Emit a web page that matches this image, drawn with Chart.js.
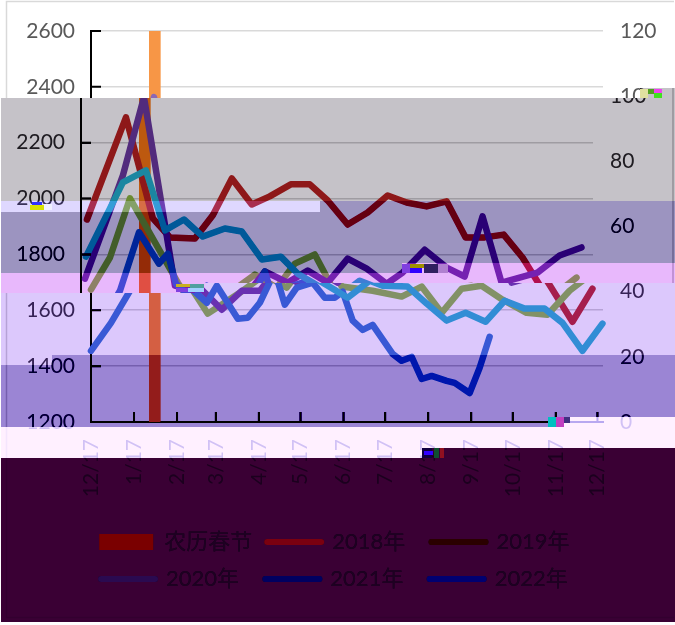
<!DOCTYPE html>
<html><head><meta charset="utf-8">
<script src="https://cdn.jsdelivr.net/npm/chart.js@4"></script>
<style>html,body{margin:0;padding:0;background:#fff}canvas{display:block}</style>
</head><body><canvas id="c" width="675" height="625"></canvas>
<script>
const monthDays=[0,31,62,90,121,151,182,212,243,274,304,335,365];
const monthLabels=['12/17','1/17','2/17','3/17','4/17','5/17','6/17','7/17','8/17','9/17','10/17','11/17','12/17'];
const festivalDay=[46];
const festivalValue=[120];
const days2018=[4.3,32.4,51.8,64.1,82.1,95,108.7,123.1,136,151.2,164.9,177.8,192.2,206.6,221,234.7,249.1,263.5,277.2,290.9,304.6,318.2,347,361.4];
const vals2018=[1925,2291,1929,1861,1857,1940,2072,1979,2008,2051,2051,1993,1907,1950,2011,1986,1972,1990,1861,1861,1871,1789,1559,1677];
const days2019=[7.2,20.9,35.3,69.8,84.2,109.4,125.3,141.1,154.1,168.5,177.8,180.7,203,223.9,238.3,252.7,267.1,281.5,296.6,313.9,329,344.9,357.1];
const vals2019=[1674,1789,2001,1699,1588,1670,1728,1681,1767,1800,1713,1685,1670,1649,1685,1591,1677,1688,1638,1591,1584,1670,1717];
const days2020=[2.9,30.2,45.4,67.7,80.6,94.3,108.7,121.7,132.5,149,163.4,177.8,192.2,205.9,220.3,231.8,247.7,263.5,276.5,289.4,303.1,329,344.9,360.7];
const vals2020=[1713,2083,2363,1688,1670,1602,1670,1670,1739,1699,1742,1699,1785,1749,1695,1735,1817,1753,1721,1936,1699,1735,1796,1825];
const days2021=[0,14.4,28.1,41.8,56.2,62.6,68.4,83.5,90.7,105.8,113,121.7,132.5,139.7,148.3,159.8,168.5,175.7,181.4,188.6,195.8,203,217.4,223.9,231.1,238.3,245.5,256.3,262.1,272.9,280.1,287.3];
const vals2021=[1455,1555,1670,1879,1767,1803,1695,1627,1688,1570,1573,1627,1739,1620,1681,1699,1645,1645,1667,1563,1530,1548,1444,1419,1433,1354,1365,1347,1340,1304,1394,1505];
const days2022=[3.6,30.2,46.8,60.5,74.2,87.8,103.7,115.9,130.3,144,156.2,167,185,200.9,210.2,228.2,241.9,256.3,270,284.4,298.1,312.5,326.9,339.8,354.2,368.6];
const vals2022=[1792,2058,2101,1886,1925,1864,1893,1882,1782,1792,1731,1699,1645,1706,1688,1685,1624,1563,1591,1559,1634,1606,1606,1555,1455,1552];
const seriesNames=['2018年','2019年','2020年','2021年','2022年'];
const festivalName='农历春节';

const FONT='Lato, "Noto Sans CJK SC", sans-serif';
const LEGEND_TEXT='#1e0022';
const lineColors=['#C85550','#A5C869','#8C68B4','#5C90D8','#55C4D8'];
const legendColors=['#7a0000','#7a0010','#2a0000','#2a0a50','#000060','#000070'];
const bands=[
 {r:[[1,98,675,201],[640,88,675,98]],hi:[197,194,200],lo:[-58,-61,-55]},
 {r:[[1,201,320,212]],hi:[223,216,255],lo:[-32,-39,0]},
 {r:[[1,212,320,273],[320,201,402,273],[402,201,675,263]],hi:[156,148,192],lo:[-99,-107,-63]},
 {r:[[1,273,675,283],[402,263,675,273],[1,283,205,293]],hi:[232,184,252],lo:[-23,-71,-3]},
 {r:[[205,283,675,355],[1,293,205,355],[1,355,52,365]],hi:[220,200,252],lo:[-35,-55,-3]},
 {r:[[52,355,548,427],[548,355,675,417],[1,365,52,427]],hi:[155,133,212],lo:[-100,-122,-43]},
 {r:[[1,427,422,458],[422,427,675,448],[548,417,675,427]],hi:[255,240,255],lo:[184,168,240]},
 {r:[[1,458,675,622],[422,448,675,458]],hi:[58,0,52],lo:[10,0,18]}
];
const glitches=[
 [30,205,14,5,'#d8e000'],[32,202,10,3,'#3030ff'],[44,204,8,6,'#f0f0ff'],
 [176,284,14,3,'#c8b020'],[190,284,14,4,'#50a0a0'],[176,288,12,4,'#8040e0'],[188,288,16,4,'#a0d0ff'],
 [402,264,10,9,'#8040e0'],[410,264,14,4,'#a09000'],[410,268,12,5,'#3000ff'],[424,264,14,9,'#302060'],[438,264,10,9,'#b080d0'],
 [640,89,8,9,'#e0e0a0'],[648,89,6,5,'#50a020'],[654,89,8,4,'#f040f0'],[654,93,8,5,'#40e020'],
 [548,417,8,10,'#00c0c0'],[556,417,8,10,'#c040c0'],[564,417,6,6,'#403080'],
 [422,448,10,10,'#100040'],[424,451,9,4,'#3000ff'],[434,448,5,10,'#105030'],[440,448,4,10,'#901020']
];
const toPts=(d,v)=>d.map((x,i)=>({x,y:v[i]}));
const lineSets=[[days2018,vals2018],[days2019,vals2019],[days2020,vals2020],[days2021,vals2021],[days2022,vals2022]];

const fx={
 id:'fx',
 beforeDraw(ch){
  const c=ch.ctx;c.save();c.fillStyle='#fff';c.fillRect(0,0,675,625);
  c.strokeStyle='#d9d9d9';c.lineWidth=1.5;c.beginPath();
  c.moveTo(674,1.5);c.lineTo(6.5,1.5);c.lineTo(6.5,617.5);c.lineTo(674,617.5);c.stroke();c.restore();
 },
 afterDatasetsDraw(ch){
  const c=ch.ctx,x=ch.scales.x,y=ch.scales.y,a=ch.chartArea;
  c.save();c.strokeStyle='#000';c.lineWidth=2;c.beginPath();
  x.ticks.forEach(t=>{const p=x.getPixelForValue(t.value);c.moveTo(p,a.bottom);c.lineTo(p,a.bottom-10);});
  y.ticks.forEach(t=>{const p=y.getPixelForValue(t.value);c.moveTo(a.left,p);c.lineTo(a.left+10,p);});
  c.stroke();c.restore();
 },
 afterDraw(ch){
  const c=ch.ctx,cv=ch.canvas;
  c.save();
  const shift=[[10,98,665,185],[10,283,195,10],[650,88,25,10]];
  shift.forEach(s=>{c.drawImage(cv,s[0],s[1],s[2],s[3],s[0]-10,s[1],s[2],s[3]);});
  c.fillStyle='#fff';c.fillRect(665,98,10,185);c.fillRect(665,88,10,10);
  c.fillStyle='#d9d9d9';c.fillRect(672,88,2,195);
  bands.forEach(b=>b.r.forEach(r=>{
   const w=r[2]-r[0],h=r[3]-r[1];
   const im=c.getImageData(r[0],r[1],w,h),d=im.data;
   for(let i=0;i<d.length;i+=4){
    for(let k=0;k<3;k++){
     const o=b.lo[k]+d[i+k]/255*(b.hi[k]-b.lo[k]);
     d[i+k]=o<0?0:o>255?255:o;
    }
   }
   c.putImageData(im,r[0],r[1]);
  }));
  glitches.forEach(g=>{c.fillStyle=g[4];c.fillRect(g[0],g[1],g[2],g[3]);});
  c.restore();
  ch.legend.draw();
 }
};

Chart.defaults.color=LEGEND_TEXT;
new Chart(document.getElementById('c'),{
 data:{datasets:[
  {type:'bar',label:festivalName,data:festivalDay.map((x,i)=>({x,y:festivalValue[i]})),xAxisID:'x',yAxisID:'y1',backgroundColor:'#F79646',barThickness:11,order:10},
  ...lineSets.map((s,i)=>({type:'line',label:seriesNames[i],data:toPts(s[0],s[1]),xAxisID:'x',yAxisID:'y',borderColor:lineColors[i],borderWidth:6.5,pointRadius:0,tension:0,fill:false,borderCapStyle:'round',borderJoinStyle:'round',clip:false,order:5-i}))
 ]},
 options:{
  responsive:false,animation:false,
  layout:{padding:{top:31,bottom:25,left:5,right:0}},
  plugins:{
   tooltip:{enabled:false},
   legend:{position:'bottom',labels:{
    usePointStyle:true,pointStyleWidth:54,boxHeight:16,padding:15,color:LEGEND_TEXT,
    font:{family:FONT,size:22},
    generateLabels(){
     const names=[festivalName,...seriesNames];
     return names.map((n,i)=>({text:i===0?n:n+'\u00a0\u00a0',fillStyle:legendColors[i],strokeStyle:legendColors[i],lineWidth:i===0?0:6,lineCap:'round',pointStyle:i===0?'rect':'line',datasetIndex:i,fontColor:LEGEND_TEXT}));
    }
   }}
  },
  scales:{
   x:{type:'linear',position:'bottom',min:0,max:369,offset:false,
    afterBuildTicks(s){s.ticks=monthDays.map(v=>({value:v}));},
    afterFit(s){s.height=94;},
    grid:{display:false,drawTicks:false,offset:false},border:{display:true,color:'#000',width:2},
    ticks:{autoSkip:false,minRotation:90,maxRotation:90,padding:17,color:'#595959',font:{family:FONT,size:21},callback:(v,i)=>monthLabels[i]}},
   y:{type:'linear',position:'left',min:1200,max:2600,
    afterFit(s){s.width=86;},
    grid:{color:'#d9d9d9',lineWidth:1.6,drawTicks:false},border:{display:true,color:'#000',width:2},
    ticks:{stepSize:200,padding:16,color:'#595959',font:{family:FONT,size:21},callback:v=>String(v)}},
   y1:{type:'linear',position:'right',min:0,max:120,
    afterFit(s){s.width=72;},
    grid:{display:false,drawTicks:false},border:{display:false},
    ticks:{stepSize:20,padding:17,color:'#595959',font:{family:FONT,size:21}}}
  }
 },
 plugins:[fx]
});
</script></body></html>
